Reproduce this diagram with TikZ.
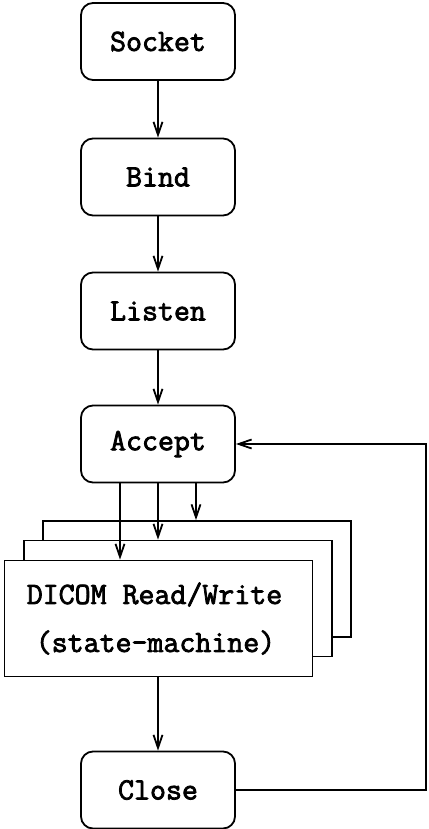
\documentclass[tikz,border=0pt]{standalone}
\usepackage{fontspec}
\setmonofont[AutoFakeBold = 2.5]{Latin Modern Mono}
\usepackage{tikz}
\usetikzlibrary{arrows.meta}

\tikzset{
  stepbox/.style = {draw, rounded corners = 12pt, minimum width = 154pt, minimum height = 77pt, fill = white},
  rwbox/.style = {draw, minimum width = 308pt, minimum height = 116pt, fill = white},
  flow/.style = {-{Straight Barb[length = 13pt, width = 9pt]}}
}

\begin{document}
\begin{tikzpicture}[x = 1pt, y = -1pt, line width = 1.8pt,
  font = \ttfamily\bfseries\fontsize{31}{48}\selectfont]
\useasboundingbox (0,0) rectangle (428,829);
% Server steps
\node[stepbox] (socket) at (158, 41.5) {Socket};
\node[stepbox] (bind) at (158, 177) {Bind};
\node[stepbox] (listen) at (158, 311) {Listen};
\node[stepbox] (accept) at (158, 444) {Accept};
\node[stepbox] (close) at (158, 790) {Close};
% Read/Write stack
\node[rwbox] (back) at (197, 579) {};
\node[rwbox] (middle) at (178, 598.5) {};
\node[rwbox, align = center] (front) at (158.5, 618.5) {DICOM Read/Write\hspace*{8pt}\\(state-machine)\hspace*{6pt}};
% Connections
\draw[flow] (socket) -- (bind);
\draw[flow] (bind) -- (listen);
\draw[flow] (listen) -- (accept);
\draw[flow] ([xshift = -38pt]accept.south) -- ([xshift = -38pt]accept.south |- front.north);
\draw[flow] (accept.south) -- (accept.south |- middle.north);
\draw[flow] ([xshift = 38pt]accept.south) -- ([xshift = 38pt]accept.south |- back.north);
\draw[flow] (front.south -| close.north) -- (close.north);
% Loop back
\coordinate (loop) at (426, 444);
\draw[flow] (close.east) -| (loop) -- (accept.east);
\end{tikzpicture}
\end{document}
